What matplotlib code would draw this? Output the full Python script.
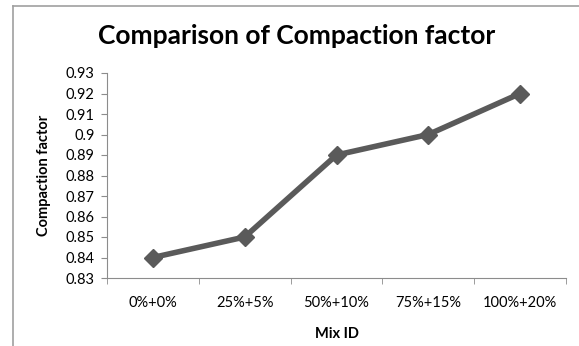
import matplotlib.pyplot as plt
from matplotlib.lines import Line2D
import numpy as np

mix_ids = ['0%+0%', '25%+5%', '50%+10%', '75%+15%', '100%+20%']
compaction = [0.84, 0.85, 0.89, 0.90, 0.92]
yticks = [0.83, 0.84, 0.85, 0.86, 0.87, 0.88, 0.89, 0.9, 0.91, 0.92, 0.93]

plt.rcParams['font.family'] = ['Lato', 'DejaVu Sans']

fig = plt.figure(figsize=(5.79, 3.46), dpi=100)
ax = fig.add_axes([107 / 579, 1 - 278 / 346, (566 - 107) / 579, (278 - 73) / 346])

x = np.arange(len(mix_ids))
ax.plot(x, compaction, color='#5a5a5a', linewidth=4, marker='D', markersize=9,
        markerfacecolor='#5a5a5a', markeredgecolor='#5a5a5a')

ax.set_xlim(-0.5, len(mix_ids) - 0.5)
ax.set_ylim(0.83, 0.93)
ax.set_yticks(yticks)
ax.set_yticklabels([('%g' % v) for v in yticks], fontsize=10.5)
ax.set_xticks(x)
ax.set_xticklabels(mix_ids, fontsize=10.5)
ax.tick_params(axis='x', length=0, pad=13)
ax.set_xticks(np.arange(len(mix_ids) + 1) - 0.5, minor=True)
ax.tick_params(axis='x', which='minor', length=4, color='#8c8c8c')
ax.tick_params(axis='y', length=4, color='#8c8c8c', pad=5)

for s in ['top', 'right']:
    ax.spines[s].set_visible(False)
for s in ['left', 'bottom']:
    ax.spines[s].set_color('#8c8c8c')

ax.set_xlabel('Mix ID', fontsize=10.5, fontweight='bold', labelpad=12)
ax.set_ylabel('Compaction factor', fontsize=10.5, fontweight='bold', labelpad=10)
fig.text(297 / 579, 1 - 36 / 346, 'Comparison of Compaction factor', fontsize=19,
         fontweight='bold', ha='center', va='center')

# outer chart frame (left and top edges visible)
fig.add_artist(Line2D([13 / 579, 13 / 579], [0, 1 - 6 / 346], color='#a0a0a0', lw=1.2))
fig.add_artist(Line2D([13 / 579, 1], [1 - 6 / 346, 1 - 6 / 346], color='#a0a0a0', lw=1.2))

fig.savefig('out.png', dpi=100)
